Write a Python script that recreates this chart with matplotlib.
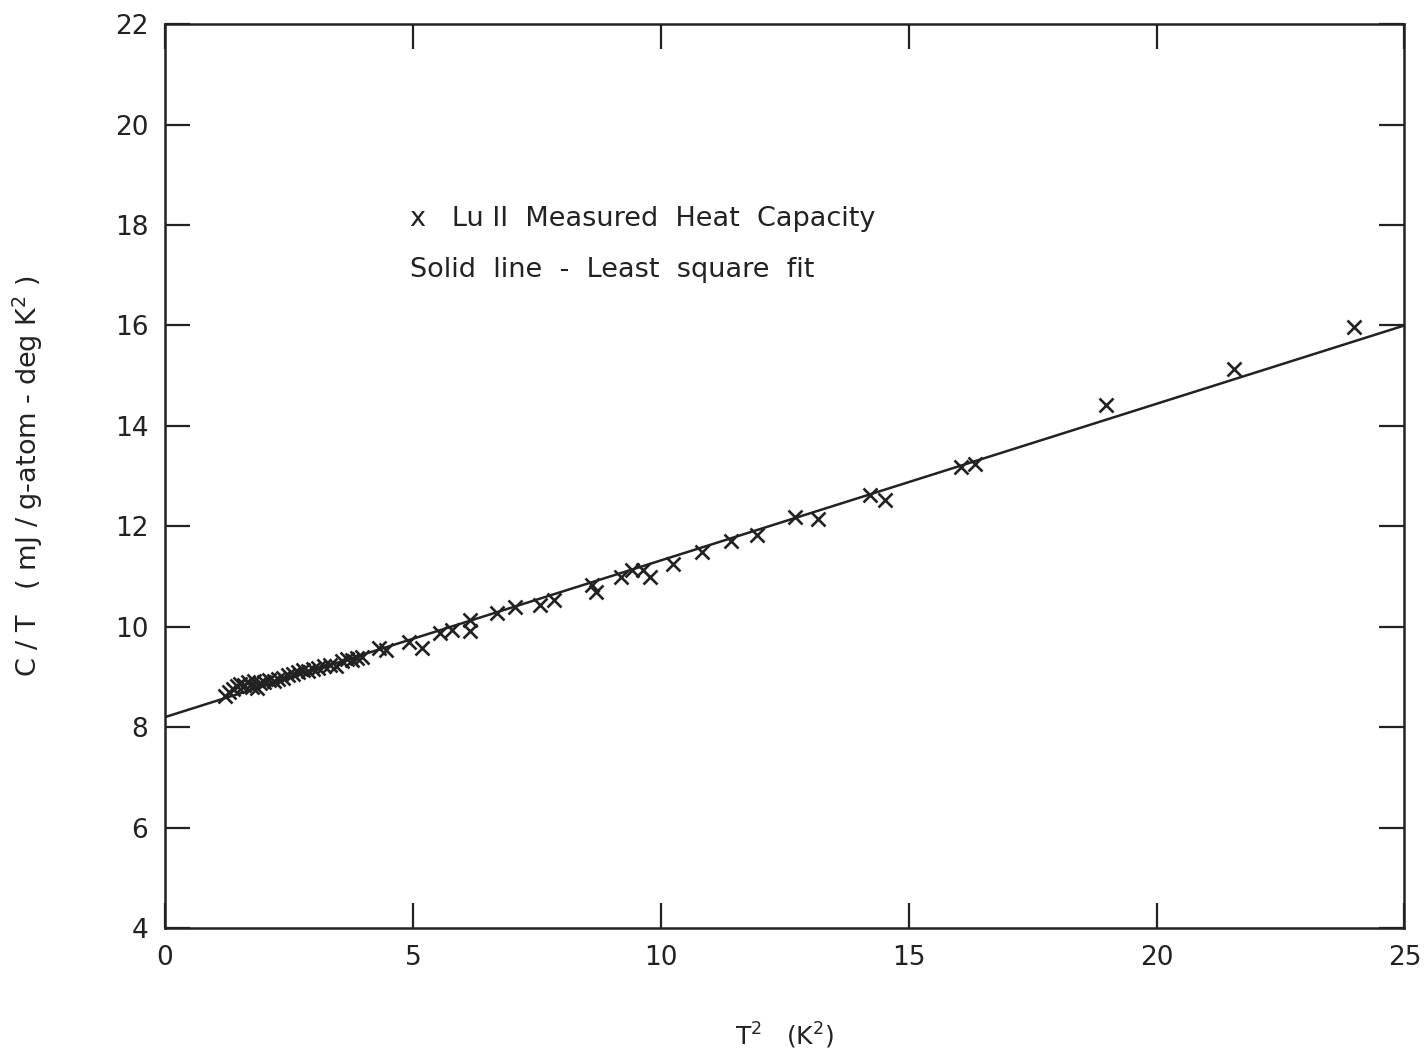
import numpy as np
import matplotlib
matplotlib.use("Agg")
import matplotlib.pyplot as plt

plt.rcParams['font.family'] = ['DejaVu Sans']

# measured points, T^2 (K^2) vs C/T (mJ / g-atom deg K^2)
t2 = [1.22, 1.30, 1.38, 1.45, 1.52, 1.60, 1.68, 1.75, 1.80, 1.85,
      1.92, 2.00, 2.10, 2.20, 2.28, 2.38, 2.48, 2.58, 2.68, 2.78,
      2.88, 2.98, 3.08, 3.20, 3.32, 3.45, 3.58, 3.68, 3.78, 3.88,
      3.98,
      4.32, 4.45, 4.93, 5.19, 5.55, 5.79, 6.15, 6.15, 6.70, 7.06,
      7.56, 7.84, 8.61, 8.69, 9.19, 9.43, 9.65, 9.79, 10.24, 10.84,
      11.42, 11.95, 12.71, 13.17, 14.22, 14.52, 16.05, 16.33, 18.99, 21.56,
      23.99]
c_over_t = [8.62, 8.70, 8.76, 8.82, 8.86, 8.84, 8.90, 8.80, 8.92, 8.78,
            8.88, 8.90, 8.94, 8.92, 8.96, 8.98, 9.04, 9.06, 9.10, 9.14,
            9.12, 9.16, 9.18, 9.22, 9.24, 9.22, 9.32, 9.36, 9.34, 9.38,
            9.40,
            9.58, 9.54, 9.70, 9.58, 9.88, 9.94, 10.14, 9.92, 10.28, 10.40,
            10.44, 10.54, 10.84, 10.70, 11.00, 11.14, 11.14, 11.00, 11.24, 11.48,
            11.70, 11.82, 12.18, 12.14, 12.63, 12.53, 13.19, 13.25, 14.42, 15.14,
            15.96]

# least square fit line end points
fit_x = [0, 25]
fit_y = [8.2, 16.0]

xticks = [0, 5, 10, 15, 20, 25]
yticks = [4, 6, 8, 10, 12, 14, 16, 18, 20, 22]

fig = plt.figure(figsize=(14.28, 10.51), dpi=100)
ax = fig.add_axes([0.1155, 0.117, 0.868, 0.860])

ax.plot(fit_x, fit_y, color='#222222', linewidth=1.8)
ax.plot(t2, c_over_t, linestyle='none', marker='x', color='#222222',
        markersize=10.5, markeredgewidth=1.9)

ax.set_xlim(0, 25)
ax.set_ylim(4, 22)
ax.set_xticks(xticks)
ax.set_yticks(yticks)
ax.tick_params(direction='in', length=18, width=1.6, top=True, right=True,
               labelsize=19, pad=12, colors='#222222')
for s in ax.spines.values():
    s.set_linewidth(1.8)
    s.set_color('#222222')

ax.text(0.198, 0.784, 'x   Lu II  Measured  Heat  Capacity', transform=ax.transAxes,
        fontsize=19.5, color='#222222', va='center')
ax.text(0.198, 0.728, 'Solid  line  -  Least  square  fit', transform=ax.transAxes,
        fontsize=19.5, color='#222222', va='center')

ax.set_xlabel('T$^2$   (K$^2$)', fontsize=18, labelpad=36, color='#222222')
ax.set_ylabel('C / T   ( mJ / g-atom - deg K$^2$ )', fontsize=19.5, labelpad=50,
              color='#222222')

fig.savefig('out.png', dpi=100)
